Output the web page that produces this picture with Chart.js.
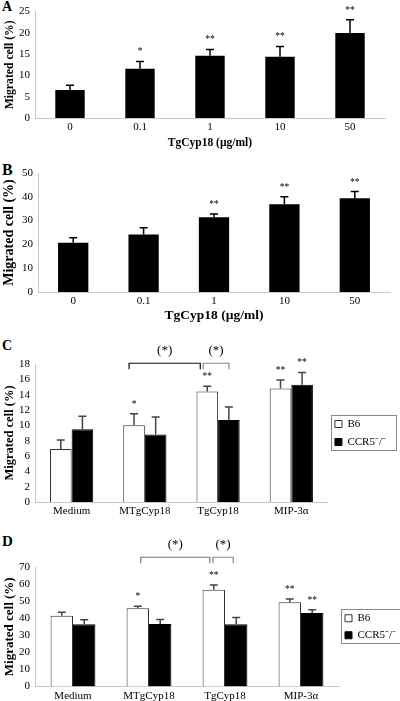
<!DOCTYPE html>
<html>
<head>
<meta charset="utf-8">
<script src="https://cdn.jsdelivr.net/npm/chart.js@4.4.1/dist/chart.umd.min.js"></script>
<style>
  body { margin: 0; background: #fff; width: 400px; height: 701px; position: relative; overflow: hidden; font-family: 'Liberation Serif', 'Times New Roman', serif; }
  canvas { position: absolute; left: 0; }
  .tag { position: absolute; left: 2px; font-weight: bold; line-height: 1; }
</style>
</head>
<body>
<div class="tag" style="top:0px;font-size:14px">A</div>
<div class="tag" style="top:162px;font-size:16px">B</div>
<div class="tag" style="top:339px;font-size:14px">C</div>
<div class="tag" style="top:534px;font-size:15px">D</div>
<canvas id="chartA" width="400" height="156" style="top:0px"></canvas>
<canvas id="chartB" width="400" height="165" style="top:160px"></canvas>
<canvas id="chartC" width="400" height="190" style="top:330px"></canvas>
<canvas id="chartD" width="400" height="181" style="top:520px"></canvas>
<script>
// panels A and B: TgCyp18 dose response
const doseLabels = ['0', '0.1', '1', '10', '50'];
const migA = [6.6, 11.6, 14.6, 14.4, 20.0];
const sdA = [1.1, 1.7, 1.5, 2.4, 3.1];
const starsA = ['', '*', '**', '**', '**'];
const migB = [20.7, 24.2, 31.4, 36.9, 39.4];
const sdB = [2.1, 2.8, 1.4, 3.1, 2.8];
const starsB = ['', '', '**', '**', '**'];

// panels C and D: B6 vs CCR5-/-
const groupLabels = ['Medium', 'MTgCyp18', 'TgCyp18', 'MIP-3α'];
const seriesNames = ['B6', 'CCR5⁻/⁻'];
const b6C = [6.9, 10.0, 14.4, 14.8];
const b6SdC = [1.2, 1.5, 0.7, 1.1];
const b6StarsC = ['', '*', '**', '**'];
const ccrC = [9.5, 8.8, 10.7, 15.3];
const ccrSdC = [1.7, 2.3, 1.7, 1.6];
const ccrStarsC = ['', '', '', '**'];
const b6D = [41.5, 45.8, 56.7, 49.4];
const b6SdD = [2.0, 1.2, 2.7, 1.9];
const b6StarsD = ['', '*', '**', '**'];
const ccrD = [36.4, 36.6, 36.4, 43.1];
const ccrSdD = [2.7, 2.6, 4.0, 1.9];
const ccrStarsD = ['', '', '', '**'];

// significance brackets: [dataset, category] to [dataset, category]
const bracketsC = [
  { from: [0, 1], to: [0, 2], dx: [-5, -7], level: 18.1, color: '#111' },
  { from: [0, 2], to: [1, 2], dx: [-4, 0], level: 18.1, color: '#888' }
];
const bracketsD = [
  { from: [0, 1], to: [0, 2], dx: [3, -4], level: 75.7, color: '#777' },
  { from: [0, 2], to: [1, 2], dx: [-1, -3], level: 75.7, color: '#888' }
];

const serif = "'Liberation Serif', 'Times New Roman', serif";

function extras(cfg) {
  return {
    id: 'extras',
    afterDatasetsDraw(chart) {
      const ctx = chart.ctx;
      const y = chart.scales.y;
      ctx.save();
      chart.data.datasets.forEach((ds, i) => {
        chart.getDatasetMeta(i).data.forEach((bar, j) => {
          const top = y.getPixelForValue(ds.data[j] + ds.sd[j]);
          ctx.strokeStyle = cfg.errColor;
          ctx.lineWidth = 1.5;
          ctx.beginPath();
          ctx.moveTo(bar.x, bar.y);
          ctx.lineTo(bar.x, top);
          ctx.moveTo(bar.x - 4, top);
          ctx.lineTo(bar.x + 4, top);
          ctx.stroke();
          if (ds.stars[j]) {
            ctx.fillStyle = '#000';
            ctx.font = '9.5px ' + serif;
            ctx.textAlign = 'center';
            ctx.textBaseline = 'alphabetic';
            ctx.fillText(ds.stars[j], bar.x, top - 7);
          }
        });
      });
      (cfg.brackets || []).forEach(b => {
        const xa = chart.getDatasetMeta(b.from[0]).data[b.from[1]].x + b.dx[0];
        const xb = chart.getDatasetMeta(b.to[0]).data[b.to[1]].x + b.dx[1];
        const yl = y.getPixelForValue(b.level);
        ctx.strokeStyle = b.color;
        ctx.lineWidth = 1.2;
        ctx.beginPath();
        ctx.moveTo(xa, yl + 6);
        ctx.lineTo(xa, yl);
        ctx.lineTo(xb, yl);
        ctx.lineTo(xb, yl + 6);
        ctx.stroke();
        ctx.fillStyle = '#000';
        ctx.font = '13px ' + serif;
        ctx.textAlign = 'center';
        ctx.textBaseline = 'middle';
        ctx.fillText('(*)', (xa + xb) / 2, yl - 13);
      });
      ctx.restore();
    },
    afterDraw(chart) {
      if (!cfg.legend) return;
      const hb = chart.legend.legendHitBoxes;
      const l = Math.min(...hb.map(h => h.left)) - 4;
      const t = Math.min(...hb.map(h => h.top)) - 4;
      const r = Math.max(...hb.map(h => h.left + h.width)) + 10;
      const btm = Math.max(...hb.map(h => h.top + h.height)) + 2;
      const ctx = chart.ctx;
      ctx.save();
      ctx.strokeStyle = '#888';
      ctx.lineWidth = 1;
      ctx.strokeRect(Math.round(l) + 0.5, Math.round(t) + 0.5, Math.round(r - l), Math.round(btm - t));
      ctx.restore();
    }
  };
}

function panel(id, cfg) {
  const tickFont = { family: serif, size: 11 };
  new Chart(document.getElementById(id), {
    type: 'bar',
    data: { labels: cfg.labels, datasets: cfg.datasets },
    options: {
      responsive: false,
      animation: false,
      layout: { padding: cfg.pad },
      plugins: {
        tooltip: { enabled: false },
        legend: cfg.legend ? {
          display: true,
          position: 'right',
          fullSize: false,
          maxWidth: cfg.legendWidth,
          labels: { boxWidth: 7, boxHeight: 7, padding: cfg.legendGap, color: '#000', font: { family: serif, size: 11 } }
        } : { display: false }
      },
      scales: {
        x: {
          grid: { display: false, drawTicks: false },
          border: { color: '#c8c8c8' },
          ticks: { color: '#000', font: tickFont, padding: 3, maxRotation: 0, autoSkip: false },
          title: cfg.xTitle ? {
            display: true, text: cfg.xTitle, color: '#000',
            font: { family: serif, size: cfg.xTitleSize, weight: 'bold' },
            padding: { top: 0, bottom: cfg.xTitlePad }
          } : { display: false },
          afterFit: s => { s.height = cfg.xh; }
        },
        y: {
          min: 0,
          max: cfg.max,
          grid: { display: false, drawTicks: false },
          border: { color: '#c8c8c8' },
          ticks: { stepSize: cfg.step, autoSkip: false, color: '#000', font: tickFont, padding: 5 },
          title: {
            display: true, text: 'Migrated cell (%)', color: '#000',
            font: { family: serif, size: cfg.yTitleSize, weight: 'bold' },
            padding: { top: cfg.yTitlePad, bottom: 0 }
          },
          afterFit: s => { s.width = cfg.yw; }
        }
      }
    },
    plugins: [extras(cfg)]
  });
}

panel('chartA', {
  labels: doseLabels,
  datasets: [{ data: migA, sd: sdA, stars: starsA, backgroundColor: '#000', borderWidth: 0, barPercentage: 0.42, categoryPercentage: 1 }],
  max: 25, step: 5, pad: { top: 6, right: 15, left: 0, bottom: 0 },
  xh: 38, yw: 35, xTitle: 'TgCyp18 (µg/ml)', xTitleSize: 11.5, xTitlePad: 6,
  yTitleSize: 11.7, yTitlePad: 3, errColor: '#000'
});

panel('chartB', {
  labels: doseLabels,
  datasets: [{ data: migB, sd: sdB, stars: starsB, backgroundColor: '#000', borderWidth: 0, barPercentage: 0.43, categoryPercentage: 1 }],
  max: 50, step: 10, pad: { top: 13, right: 10, left: 0, bottom: 0 },
  xh: 33, yw: 38, xTitle: 'TgCyp18 (µg/ml)', xTitleSize: 13.5, xTitlePad: 1,
  yTitleSize: 14, yTitlePad: 1, errColor: '#000'
});

function pairSets(b6, b6Sd, b6Stars, ccr, ccrSd, ccrStars) {
  return [
    { label: seriesNames[0], data: b6, sd: b6Sd, stars: b6Stars, backgroundColor: '#fff', borderColor: '#333', borderWidth: 1, barPercentage: 1, categoryPercentage: 0.59 },
    { label: seriesNames[1], data: ccr, sd: ccrSd, stars: ccrStars, backgroundColor: '#000', borderColor: '#000', borderWidth: 1, barPercentage: 1, categoryPercentage: 0.59 }
  ];
}

panel('chartC', {
  labels: groupLabels,
  datasets: pairSets(b6C, b6SdC, b6StarsC, ccrC, ccrSdC, ccrStarsC),
  max: 18, step: 2, pad: { top: 34, right: 4, left: 0, bottom: 0 },
  xh: 18, yw: 35, yTitleSize: 12.5, yTitlePad: 2.5, errColor: '#444',
  legend: true, legendGap: 7, brackets: bracketsC
});

panel('chartD', {
  labels: groupLabels,
  datasets: pairSets(b6D, b6SdD, b6StarsD, ccrD, ccrSdD, ccrStarsD),
  max: 70, step: 10, pad: { top: 47, right: 0, left: 0, bottom: 0 },
  xh: 14.5, yw: 35, yTitleSize: 13, yTitlePad: 2, errColor: '#444',
  legend: true, legendWidth: 61, legendGap: 6, brackets: bracketsD
});
</script>
</body>
</html>
